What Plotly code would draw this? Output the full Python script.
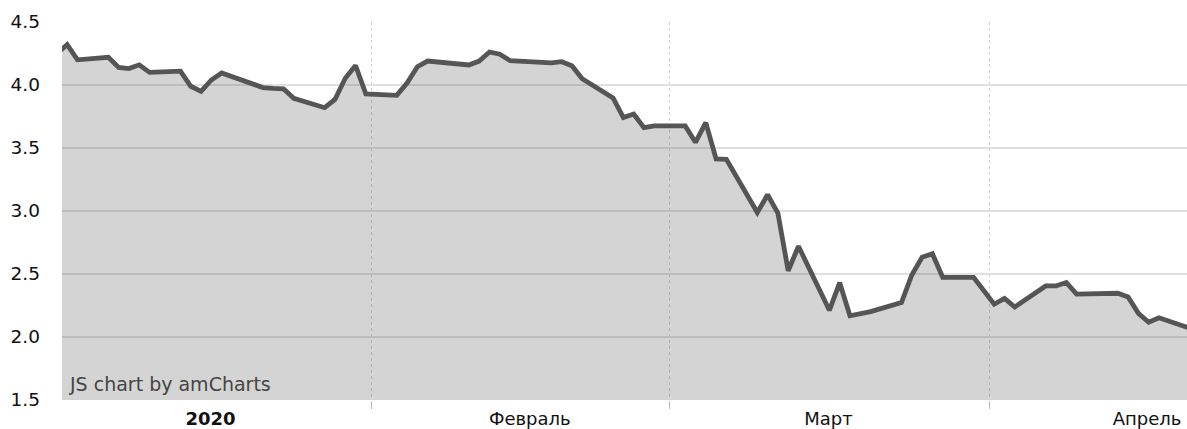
import pandas as pd
import plotly.graph_objects as go

dates = ["2019-12-31", "2020-01-02", "2020-01-03", "2020-01-06", "2020-01-07", "2020-01-08",
         "2020-01-09", "2020-01-10", "2020-01-13", "2020-01-14", "2020-01-15", "2020-01-16",
         "2020-01-17", "2020-01-21", "2020-01-22", "2020-01-23", "2020-01-24", "2020-01-27",
         "2020-01-28", "2020-01-29", "2020-01-30", "2020-01-31", "2020-02-03", "2020-02-04",
         "2020-02-05", "2020-02-06", "2020-02-10", "2020-02-11", "2020-02-12", "2020-02-13",
         "2020-02-14", "2020-02-18", "2020-02-19", "2020-02-20", "2020-02-21", "2020-02-24",
         "2020-02-25", "2020-02-26", "2020-02-27", "2020-02-28", "2020-03-02", "2020-03-03",
         "2020-03-04", "2020-03-05", "2020-03-06", "2020-03-09", "2020-03-10", "2020-03-11",
         "2020-03-12", "2020-03-13", "2020-03-16", "2020-03-17", "2020-03-18", "2020-03-19",
         "2020-03-20", "2020-03-23", "2020-03-24", "2020-03-25", "2020-03-26", "2020-03-27",
         "2020-03-30", "2020-04-01", "2020-04-02", "2020-04-03", "2020-04-06", "2020-04-07",
         "2020-04-08", "2020-04-09", "2020-04-13", "2020-04-14", "2020-04-15", "2020-04-16",
         "2020-04-17", "2020-04-20"]

values = [4.18, 4.32, 4.20, 4.22, 4.14, 4.13,
          4.16, 4.10, 4.11, 3.99, 3.95, 4.04,
          4.095, 3.98, 3.974, 3.97, 3.894, 3.82,
          3.885, 4.053, 4.155, 3.929, 3.918, 4.016,
          4.145, 4.19, 4.159, 4.19, 4.262, 4.244,
          4.193, 4.175, 4.185, 4.153, 4.05, 3.897,
          3.742, 3.77, 3.661, 3.675, 3.675, 3.545,
          3.702, 3.413, 3.41, 2.988, 3.129, 2.984,
          2.526, 2.72, 2.212, 2.431, 2.168, 2.186,
          2.201, 2.274, 2.492, 2.633, 2.661, 2.474,
          2.474, 2.26, 2.306, 2.238, 2.405, 2.405,
          2.433, 2.34, 2.347, 2.317, 2.188, 2.117,
          2.153, 2.07]

month_starts = ["2020-02-01", "2020-03-01", "2020-04-01"]
month_labels = ["<b>2020</b>", "Февраль", "Март", "Апрель"]
label_pos = ["2020-01-16 10:00", "2020-02-16 10:00", "2020-03-16 10:00", "2020-04-16 08:00"]
y_ticks = [1.5, 2.0, 2.5, 3.0, 3.5, 4.0, 4.5]

# amCharts places each daily point in the middle of its day cell
x = pd.to_datetime(dates) + pd.Timedelta(hours=12)

FONT = "DejaVu Sans, Verdana, sans-serif"

fig = go.Figure()
fig.add_trace(go.Scatter(
    x=x, y=values, mode="lines",
    line=dict(color="#555555", width=4.8),
    fill="tozeroy", fillcolor="rgba(85,85,85,0.25)",
    hoverinfo="skip", showlegend=False,
))

fig.update_layout(
    width=1187, height=429,
    margin=dict(l=62, r=0, t=22, b=29),
    paper_bgcolor="white", plot_bgcolor="white",
    font=dict(family=FONT, size=18, color="#111111"),
    xaxis=dict(
        range=["2020-01-02 00:00", "2020-04-20 05:15"],
        tickmode="array", tickvals=label_pos, ticktext=month_labels,
        ticks="", showgrid=False, zeroline=False, showline=False,
        automargin=False,
        tickfont=dict(family=FONT, size=18, color="#111111"),
        ticklabelstandoff=6,
        minor=dict(tickmode="array", tickvals=month_starts, ticks="outside",
                   ticklen=8, tickcolor="#bbbbbb", tickwidth=1,
                   showgrid=True, gridcolor="#d0d0d0", griddash="dot", gridwidth=1),
    ),
    yaxis=dict(
        range=[1.5, 4.5], tickmode="array", tickvals=y_ticks, tickformat=".1f",
        showgrid=True, gridcolor="#e0e0e0", gridwidth=1.5, zeroline=False, showline=False,
        ticks="", ticklabelstandoff=21, automargin=False,
        tickfont=dict(family=FONT, size=18.5, color="#111111"),
    ),
    annotations=[dict(
        text="JS chart by amCharts", xref="paper", yref="paper", x=0, y=0,
        xanchor="left", yanchor="bottom", xshift=5, yshift=3, showarrow=False,
        font=dict(family=FONT, size=19, color="#444444"),
    )],
)

fig.write_html(
    "out.html",
    config={"displayModeBar": False},
    post_script="document.body.style.margin='0';document.body.style.overflow='hidden';",
)
